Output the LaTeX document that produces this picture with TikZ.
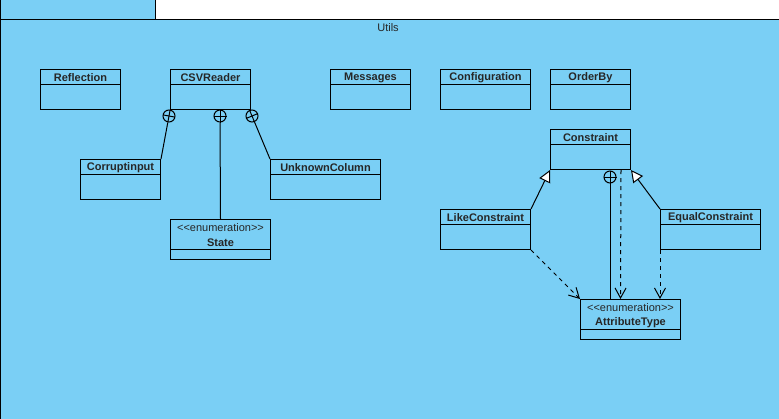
\documentclass[tikz,border=0pt]{standalone}
\usepackage{fontspec}
\setmainfont{Liberation Sans}
\usetikzlibrary{calc,arrows.meta}
\definecolor{pkgblue}{RGB}{122,207,245}
\tikzset{
  cls/.style={draw=black, line width=1pt, fill=pkgblue, rectangle, inner sep=0pt, anchor=north west},
  cname/.style={font=\bfseries\fontsize{11}{13}\selectfont, inner sep=0pt, text=black!85},
  stereo/.style={font=\fontsize{11}{13}\selectfont, inner sep=0pt, text=black!85},
  nestc/.style={draw=black, line width=1pt, circle, minimum size=12pt, inner sep=0pt},
  conn/.style={line width=1pt, draw=black},
  gen/.style={conn, -{Triangle[open, length=12pt, width=12pt, fill=white]}},
  dep/.style={conn, dash pattern=on 4pt off 4pt, -{Straight Barb[length=10pt, width=11pt, line width=1pt]}}
}
\newcommand\umlclass[6]{% name, x, y, w, h, text
  \node[cls, minimum width=#4pt, minimum height=#5pt] (#1) at (#2,#3) {};
  \draw[line width=1pt] ($(#1.north west)+(0,15)$) -- ($(#1.north east)+(0,15)$);
  \node[cname] (#1-t) at ($(#1.north)+(0,8.5)$) {#6};
}
\newcommand\umlenum[6]{% name, x, y, w, h, text
  \node[cls, minimum width=#4pt, minimum height=#5pt] (#1) at (#2,#3) {};
  \draw[line width=1pt] ($(#1.north west)+(0,30)$) -- ($(#1.north east)+(0,30)$);
  \node[stereo] (#1-s) at ($(#1.north)+(0,8.5)$) {{<}{<}enumeration{>}{>}};
  \node[cname] (#1-t) at ($(#1.north)+(0,23.5)$) {#6};
}
\begin{document}
\begin{tikzpicture}[x=1pt,y=-1pt]
\useasboundingbox (0,0) rectangle (779,418);
% package
\fill[white] (0,0) rectangle (779,418);
\draw[line width=1pt, fill=pkgblue] (0.5,-5) rectangle (155.5,19.5);
\draw[line width=1pt, fill=pkgblue] (0.5,19.5) rectangle (790,430);
\node[stereo] (pkg-t) at (388,27.5) {Utils};
% classes
\umlclass{refl}{40}{69}{80}{40}{Reflection}
\umlclass{csv}{170}{69}{80}{40}{CSVReader}
\umlclass{msg}{330}{69}{80}{40}{Messages}
\umlclass{conf}{440}{69}{90}{40}{Configuration}
\umlclass{order}{550}{69}{80}{40}{OrderBy}
\umlclass{corrupt}{80}{159}{80}{40}{Corruptinput}
\umlclass{unknown}{270}{159}{110}{40}{UnknownColumn}
\umlenum{state}{170}{219}{100}{40}{State}
\umlclass{constr}{550}{129}{80}{40}{Constraint}
\umlclass{like}{440}{209}{90}{40}{LikeConstraint}
\umlclass{equal}{660}{209}{100}{40}{EqualConstraint}
\umlenum{attr}{580}{299}{100}{40}{AttributeType}
% nesting CSVReader
\node[nestc] (n1) at (169,116) {};
\node[nestc] (n2) at (220,116) {};
\node[nestc] (n3) at (252,116) {};
\draw[conn] (n1) -- (corrupt.north east);
\draw[conn] ($(n1)!6pt!(corrupt.north east)$) -- ($(n1)!6pt!180:(corrupt.north east)$);
\draw[conn] ($(n1)!6pt!90:(corrupt.north east)$) -- ($(n1)!6pt!-90:(corrupt.north east)$);
\draw[conn] (n2) -- (state.north);
\draw[conn] (n2.north) -- (n2.south);
\draw[conn] (n2.west) -- (n2.east);
\draw[conn] (n3) -- (unknown.north west);
\draw[conn] ($(n3)!6pt!(unknown.north west)$) -- ($(n3)!6pt!180:(unknown.north west)$);
\draw[conn] ($(n3)!6pt!90:(unknown.north west)$) -- ($(n3)!6pt!-90:(unknown.north west)$);
% Constraint
\draw[gen] (like.north east) -- (constr.south west);
\draw[gen] (equal.north west) -- (constr.south east);
\node[nestc] (n4) at (610,177) {};
\draw[conn] (n4.north) -- (n4.south);
\draw[conn] (n4.west) -- (n4.east);
\draw[conn] (n4) -- (n4 |- attr.north);
\draw[dep] ($(constr.south east)+(-10,0)$) -- ($(attr.north)+(-10,0)$);
\draw[dep] (equal.south west) -- (equal.south west |- attr.north);
\draw[dep] (like.south east) -- (attr.north west);
\end{tikzpicture}
\end{document}
